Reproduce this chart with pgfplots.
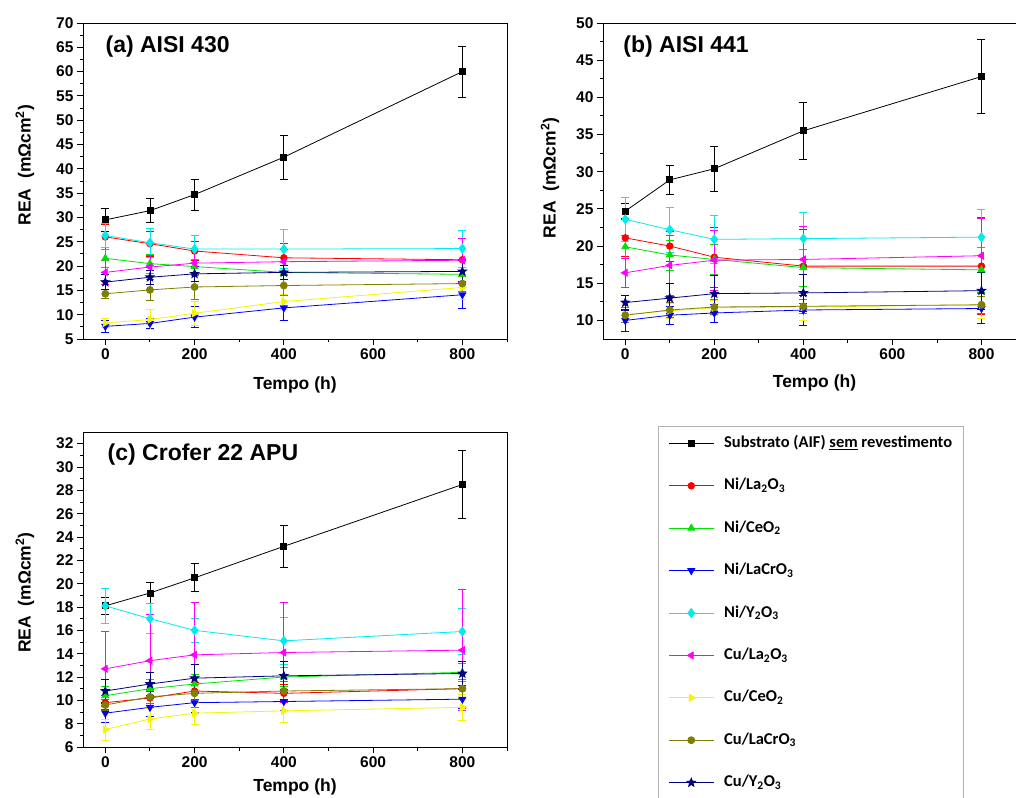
\documentclass[border=0pt]{standalone}
\usepackage{fontspec}
\setmainfont{Liberation Sans}
\newfontfamily\legfont{Carlito}
\usepackage{pgfplots}
\usepackage{pgfplotstable}
\pgfplotsset{compat=1.18}

\definecolor{cNL}{RGB}{255,0,0}
\definecolor{cNC}{RGB}{0,225,0}
\definecolor{cNLC}{RGB}{0,0,255}
\definecolor{cNY}{RGB}{0,235,235}
\definecolor{cCL}{RGB}{255,0,255}
\definecolor{cCC}{RGB}{245,245,0}
\definecolor{cCLC}{RGB}{128,128,0}
\definecolor{cCY}{RGB}{0,0,128}

\pgfdeclareplotmark{fstar}{%
  \pgfpathmoveto{\pgfqpointpolar{90}{\pgfplotmarksize}}%
  \pgfpathlineto{\pgfqpointpolar{126}{0.42\pgfplotmarksize}}%
  \pgfpathlineto{\pgfqpointpolar{162}{\pgfplotmarksize}}%
  \pgfpathlineto{\pgfqpointpolar{198}{0.42\pgfplotmarksize}}%
  \pgfpathlineto{\pgfqpointpolar{234}{\pgfplotmarksize}}%
  \pgfpathlineto{\pgfqpointpolar{270}{0.42\pgfplotmarksize}}%
  \pgfpathlineto{\pgfqpointpolar{306}{\pgfplotmarksize}}%
  \pgfpathlineto{\pgfqpointpolar{342}{0.42\pgfplotmarksize}}%
  \pgfpathlineto{\pgfqpointpolar{18}{\pgfplotmarksize}}%
  \pgfpathlineto{\pgfqpointpolar{54}{0.42\pgfplotmarksize}}%
  \pgfpathclose
  \pgfusepathqfillstroke
}

% Panel (a) AISI 430
\pgfplotstableread{
t   S    Se   NL   NLe  NC   NCe  NLC  NLCe NY   NYe  CL   CLe  CC   CCe  CLC  CLCe CY   CYe
0   29.5 2.3  26.0 2.5  21.6 1.8  7.6  1.2  26.3 2.5  18.7 2.5  8.3  1.0  14.3 1.0  16.7 1.5
100 31.4 2.5  24.6 2.5  20.5 2.0  8.2  1.0  24.8 3.0  19.8 2.5  9.0  2.0  15.1 2.2  17.7 1.5
200 34.7 3.2  23.1 2.0  19.9 1.5  9.5  2.2  23.5 2.8  20.6 2.5  10.3 2.5  15.7 2.5  18.4 1.5
400 42.4 4.5  21.7 3.0  18.7 1.5  11.4 2.5  23.5 4.0  20.9 2.5  12.7 1.5  16.0 2.0  18.7 1.5
800 60.0 5.2  21.3 4.5  18.3 1.5  14.1 2.7  23.6 3.8  21.2 4.5  15.6 2.5  16.4 1.5  18.9 2.5
}\tA
% Panel (b) AISI 441
\pgfplotstableread{
t   S    Se   NL   NLe  NC   NCe  NLC  NLCe NY   NYe  CL   CLe  CC   CCe  CLC  CLCe CY   CYe
0   24.7 1.0  21.1 2.5  19.9 1.5  10.0 1.5  23.6 3.0  16.4 2.0  10.8 1.0  10.7 1.0  12.4 1.0
100 28.9 2.0  20.0 2.0  18.8 2.0  10.7 1.2  22.2 3.0  17.4 4.0  11.3 1.0  11.4 1.0  13.0 2.0
200 30.4 3.0  18.5 4.0  18.2 2.0  11.0 1.2  20.9 3.2  18.1 4.0  11.7 1.0  11.8 1.0  13.6 2.5
400 35.5 3.8  17.3 5.0  17.1 2.5  11.4 2.0  21.0 3.5  18.2 4.5  11.8 1.8  11.9 1.0  13.7 2.5
800 42.8 5.0  17.3 6.5  16.8 3.0  11.6 2.0  21.2 3.8  18.7 5.0  12.1 1.8  12.1 1.2  14.0 2.5
}\tB
% Panel (c) Crofer 22 APU
\pgfplotstableread{
t   S    Se   NL   NLe  NC   NCe  NLC  NLCe NY   NYe  CL   CLe  CC   CCe  CLC  CLCe CY   CYe
0   18.1 0.7  9.8  0.6  10.4 0.8  8.9  0.8  18.1 1.5  12.7 3.2  7.5  0.9  9.6  0.5  10.8 1.0
100 19.2 0.9  10.2 0.6  11.0 0.8  9.4  0.8  17.0 1.3  13.4 4.0  8.4  0.9  10.3 0.6  11.4 1.0
200 20.5 1.2  10.8 0.7  11.4 0.8  9.8  0.8  16.0 1.0  13.9 4.5  8.9  1.0  10.6 0.8  11.9 1.2
400 23.2 1.8  10.6 0.8  12.0 0.8  9.9  0.8  15.1 2.0  14.1 4.3  9.1  1.0  10.8 0.8  12.1 1.2
800 28.5 2.9  11.0 0.8  12.4 0.8  10.1 0.8  15.9 2.0  14.3 5.2  9.4  1.1  11.0 0.8  12.3 1.0
}\tC

\pgfplotsset{
  ebar/.style={error bars/y dir=both, error bars/y explicit,
    error bars/error mark=-,
    error bars/error bar style={line width=0.7pt},
    error bars/error mark options={rotate=90, line width=0.7pt, mark size=4pt}},
  sS/.style={black, mark=square*, mark size=3pt, ebar},
  sNL/.style={cNL, mark=*, mark size=3.3pt, ebar},
  sNC/.style={cNC, mark=triangle*, mark size=4pt, ebar},
  sNLC/.style={cNLC, mark=triangle*, mark size=4pt, mark options={rotate=180}, ebar},
  sNY/.style={cNY, mark=diamond*, mark size=4.5pt, ebar},
  sCL/.style={cCL, mark=triangle*, mark size=4pt, mark options={rotate=90}, ebar},
  sCC/.style={cCC, mark=triangle*, mark size=4pt, mark options={rotate=-90}, ebar},
  sCLC/.style={cCLC, mark=*, mark size=3.5pt, ebar},
  sCY/.style={cCY, mark=fstar, mark size=4.5pt, ebar},
  panel/.style={
    scale only axis, width=424pt, height=316pt,
    xmin=-50, xmax=900,
    xtick={0,200,400,600,800}, minor xtick={100,300,500,700,900},
    minor y tick num=1,
    tick align=outside, xtick pos=left, ytick pos=left,
    major tick length=6pt, minor tick length=3.5pt,
    axis line style={line width=0.9pt},
    every tick/.style={black, line width=0.9pt},
    /pgf/number format/assume math mode=true,
    tick label style={font=\fontsize{15.5}{16}\selectfont\bfseries},
    label style={font=\fontsize{17.5}{18}\selectfont\bfseries},
    xlabel={Tempo (h)},
    ylabel={REA\ \ (mΩcm\textsuperscript{2})},
    every axis plot/.append style={line width=0.8pt},
    clip=false,
  },
}

\newcommand\plotall[1]{%
  \addplot[sS]   table[x=t,y=S,  y error=Se]{#1};
  \addplot[sNL]  table[x=t,y=NL, y error=NLe]{#1};
  \addplot[sNC]  table[x=t,y=NC, y error=NCe]{#1};
  \addplot[sNLC] table[x=t,y=NLC,y error=NLCe]{#1};
  \addplot[sNY]  table[x=t,y=NY, y error=NYe]{#1};
  \addplot[sCL]  table[x=t,y=CL, y error=CLe]{#1};
  \addplot[sCC]  table[x=t,y=CC, y error=CCe]{#1};
  \addplot[sCLC] table[x=t,y=CLC,y error=CLCe]{#1};
  \addplot[sCY]  table[x=t,y=CY, y error=CYe]{#1};
}

\begin{document}
\begin{tikzpicture}
\useasboundingbox (0pt,0pt) rectangle (1016pt,-797pt);

% (a)
\begin{axis}[panel, at={(83pt,-23pt)}, anchor=north west,
  ymin=5, ymax=70, ytick={5,10,...,70},
  ylabel style={at={(axis description cs:-0.137,0.55)}, anchor=center},
  xlabel style={at={(axis description cs:0.5,-0.146)}, anchor=center}]
\plotall{\tA}
\node[anchor=base west, font=\fontsize{23}{24}\selectfont\bfseries] at (rel axis cs:0.045,0.908) {(a) AISI 430};
\end{axis}

% (b)
\begin{axis}[panel, at={(603pt,-23pt)}, anchor=north west, width=423pt,
  ymin=7.5, ymax=50, ytick={10,15,...,50},
  ylabel style={at={(axis description cs:-0.125,0.51)}, anchor=center},
  xlabel style={at={(axis description cs:0.5,-0.14)}, anchor=center}]
\plotall{\tB}
\node[anchor=base west, font=\fontsize{23}{24}\selectfont\bfseries] at (rel axis cs:0.04,0.908) {(b) AISI 441};
\end{axis}

% (c)
\begin{axis}[panel, at={(83pt,-432pt)}, anchor=north west, height=315pt,
  ymin=6, ymax=33, ytick={6,8,...,32},
  ylabel style={at={(axis description cs:-0.137,0.49)}, anchor=center},
  xlabel style={at={(axis description cs:0.5,-0.127)}, anchor=center},
  legend style={at={(axis description cs:1.3561,1.019)}, anchor=north west,
    draw=black!30, line width=0.8pt, inner xsep=10pt, inner ysep=8pt,
    font=\legfont\bfseries\fontsize{16.5}{18}\selectfont,
    row sep=24.4pt, column sep=9pt,
    nodes={inner sep=1pt, text height=12pt, text depth=4pt}},
  legend cell align=left,
  legend image code/.code={\draw[mark repeat=2,mark phase=2,#1] plot coordinates {(0pt,0pt) (22.5pt,0pt) (45pt,0pt)};}]
\plotall{\tC}
\node[anchor=base west, font=\fontsize{23}{24}\selectfont\bfseries] at (rel axis cs:0.05,0.908) {(c) Crofer 22 APU};
\legend{Substrato (AIF) \underline{sem} revestimento,
  Ni/La\textsubscript{2}O\textsubscript{3},
  Ni/CeO\textsubscript{2},
  Ni/LaCrO\textsubscript{3},
  Ni/Y\textsubscript{2}O\textsubscript{3},
  Cu/La\textsubscript{2}O\textsubscript{3},
  Cu/CeO\textsubscript{2},
  Cu/LaCrO\textsubscript{3},
  Cu/Y\textsubscript{2}O\textsubscript{3}}
\end{axis}
\end{tikzpicture}
\end{document}
